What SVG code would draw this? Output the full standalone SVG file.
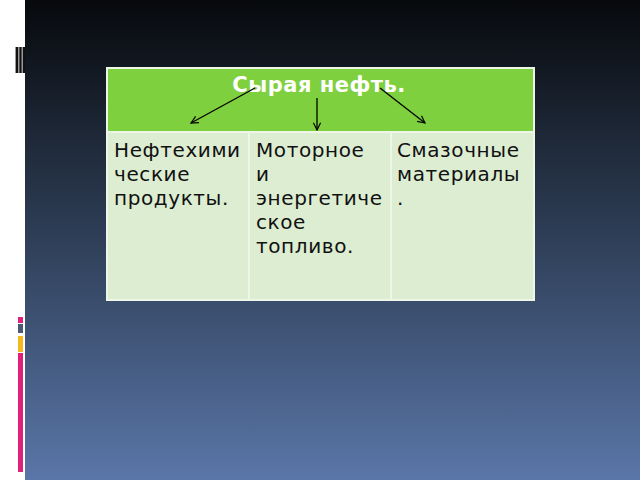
<svg xmlns="http://www.w3.org/2000/svg" width="640" height="480" viewBox="0 0 640 480">
<defs>
<linearGradient id="bg" x1="0" y1="0" x2="0" y2="1">
<stop offset="0" stop-color="#07090c"/>
<stop offset="0.5" stop-color="#2f3f58"/>
<stop offset="1" stop-color="#5a76a8"/>
</linearGradient>
<marker id="ah" viewBox="0 0 10 10" refX="9" refY="5" markerWidth="9" markerHeight="9" orient="auto" markerUnits="userSpaceOnUse">
<path d="M1,1 L9,5 L1,9" fill="none" stroke="#000" stroke-width="1.3"/>
</marker>
</defs>
<style>
.cell{fill:#dcedd2;stroke:#eef6e8;stroke-width:2}
.head{fill:#7fd03f;stroke:#eef6e8;stroke-width:2}
.t{font-family:"DejaVu Sans",sans-serif;font-size:20px;letter-spacing:0.6px;fill:#111}
.h{font-family:"DejaVu Sans",sans-serif;font-size:21px;letter-spacing:0.5px;font-weight:bold;fill:#fff}
.arr{stroke:#000;stroke-width:1.3;fill:none;marker-end:url(#ah)}
</style>
<rect x="0" y="0" width="640" height="480" fill="#fff"/>
<rect x="25" y="0" width="615" height="480" fill="url(#bg)"/>
<g id="stripes">
<rect x="15" y="47" width="10" height="26" fill="#9a9a9a"/>
<rect x="16" y="47" width="2" height="26" fill="#111"/>
<rect x="19.5" y="47" width="2" height="26" fill="#111"/>
<rect x="23" y="47" width="2" height="26" fill="#111"/>
</g>
<g id="bars">
<rect x="18" y="317" width="5" height="6" fill="#e0207a"/>
<rect x="18" y="324" width="5" height="9" fill="#4a5a72"/>
<rect x="18" y="336" width="5" height="16" fill="#f6b81c"/>
<rect x="18" y="353" width="5" height="119" fill="#e0207a"/>
</g>
<g id="header">
<rect class="head" x="107" y="68" width="427" height="64"/>
<text class="h" x="319" y="92" text-anchor="middle">Сырая нефть.</text>
</g>
<g id="cell1">
<rect class="cell" x="107" y="132" width="142" height="168"/>
<text class="t"><tspan x="114" y="157">Нефтехими</tspan><tspan x="114" y="181">ческие</tspan><tspan x="114" y="205">продукты.</tspan></text>
</g>
<g id="cell2">
<rect class="cell" x="249" y="132" width="142" height="168"/>
<text class="t"><tspan x="256" y="157">Моторное</tspan><tspan x="256" y="181">и</tspan><tspan x="256" y="205">энергетиче</tspan><tspan x="256" y="229">ское</tspan><tspan x="256" y="253">топливо.</tspan></text>
</g>
<g id="cell3">
<rect class="cell" x="391" y="132" width="143" height="168"/>
<text class="t"><tspan x="397" y="157">Смазочные</tspan><tspan x="397" y="181">материалы</tspan><tspan x="397" y="205">.</tspan></text>
</g>
<g id="connectors">
<line class="arr" x1="255" y1="88" x2="191" y2="123"/>
<line class="arr" x1="317" y1="98" x2="317" y2="130"/>
<line class="arr" x1="380" y1="88" x2="425" y2="123"/>
</g>
</svg>
